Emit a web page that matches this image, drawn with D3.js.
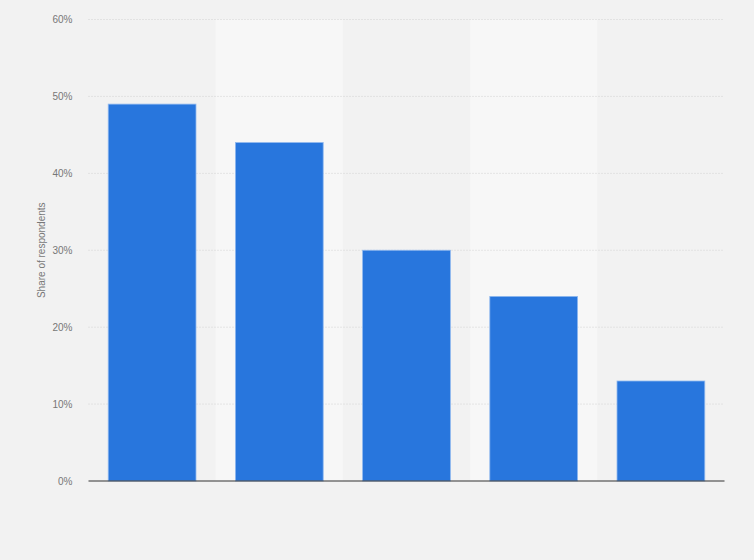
<!DOCTYPE html>
<html>
<head>
<meta charset="utf-8">
<script src="https://cdn.jsdelivr.net/npm/d3@7"></script>
<style>
  body { margin: 0; background: #f2f2f2; }
  svg { display: block; font-family: "Liberation Sans", Arial, sans-serif; }
</style>
</head>
<body>
<svg id="chart" width="754" height="560"></svg>
<script>
var categories = ["A", "B", "C", "D", "E"]
var shares = [49, 44, 30, 24, 13]
var tickValues = [0, 10, 20, 30, 40, 50, 60]

var svg = d3.select("#chart")
var margin = {left: 88.5, right: 29.5, top: 19.5, bottom: 79}
var width = 754 - margin.left - margin.right
var height = 560 - margin.top - margin.bottom

svg.append("rect").attr("width", 754).attr("height", 560).attr("fill", "#f2f2f2")

var g = svg.append("g").attr("transform", "translate(" + margin.left + "," + margin.top + ")")

var xScale = d3.scaleBand().domain(categories).range([0, width]).paddingInner(0.31).paddingOuter(0.155)
var bandScale = d3.scaleBand().domain(categories).range([0, width])
var yScale = d3.scaleLinear().domain([0, 60]).range([height, 0])

// alternating column bands
g.selectAll("rect.band")
    .data(categories)
    .enter()
    .append("rect")
    .attr("class", "band")
    .attr("x", function(d){ return bandScale(d) })
    .attr("y", 0)
    .attr("width", bandScale.bandwidth())
    .attr("height", height)
    .attr("fill", function(d, i){ return i % 2 == 1 ? "#f7f7f7" : "#f2f2f2" })

// gridlines
g.selectAll("line.grid")
    .data(tickValues.slice(1))
    .enter()
    .append("line")
    .attr("class", "grid")
    .attr("x1", 0).attr("x2", width)
    .attr("y1", function(d){ return yScale(d) })
    .attr("y2", function(d){ return yScale(d) })
    .attr("stroke", "#d2d2d2")
    .attr("stroke-dasharray", "1,2")

var axis = d3.axisLeft(yScale)
    .tickValues(tickValues)
    .tickSize(0)
    .tickPadding(16)
    .tickFormat(function(d){ return d + "%" })

var yAxis = g.append("g").call(axis)
yAxis.select(".domain").remove()
yAxis.selectAll("text").attr("fill", "#777").attr("font-size", 10)

g.selectAll("rect.bar")
    .data(shares)
    .enter()
    .append("rect")
    .attr("class", "bar")
    .attr("x", function(d, i){ return xScale(categories[i]) })
    .attr("y", function(d){ return yScale(d) })
    .attr("width", xScale.bandwidth())
    .attr("height", function(d){ return height - yScale(d) })
    .attr("fill", "#2876dd")
    .attr("stroke", "#8fb8ef")
    .attr("stroke-width", 0.8)

g.append("line")
    .attr("x1", 0).attr("x2", width)
    .attr("y1", height).attr("y2", height)
    .attr("stroke", "#333").attr("stroke-width", 1.2)

svg.append("text")
    .text("Share of respondents")
    .attr("transform", "translate(44.5," + (margin.top + height / 2) + ") rotate(-90)")
    .attr("text-anchor", "middle")
    .attr("font-size", 10)
    .attr("fill", "#777")
</script>
</body>
</html>
